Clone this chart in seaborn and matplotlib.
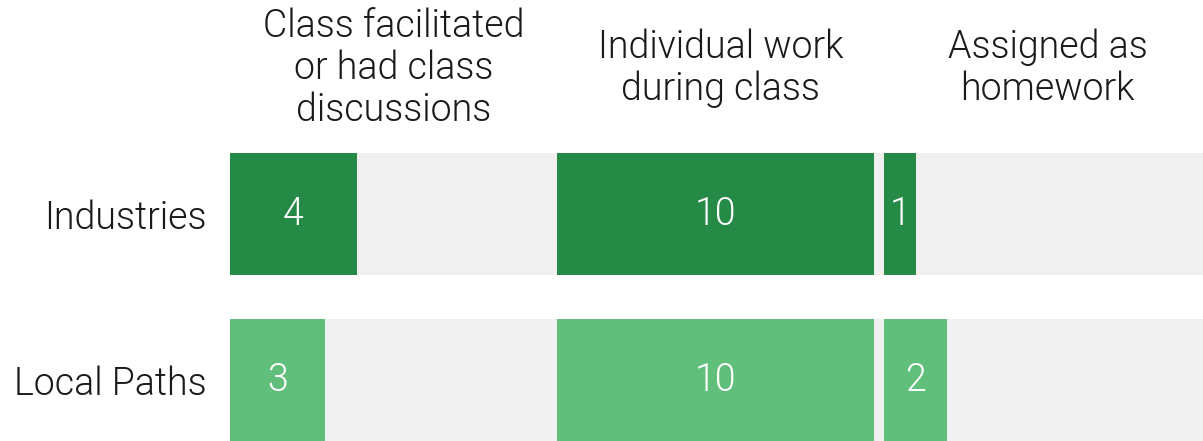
import matplotlib
matplotlib.use("Agg")
import matplotlib.pyplot as plt
import seaborn as sns

# Chart data
groups = ["Industries", "Local Paths"]
panel_titles = [
    "Class facilitated\nor had class\ndiscussions",
    "Individual work\nduring class",
    "Assigned as\nhomework",
]
facilitated = [4, 3]
individual = [10, 10]
homework = [1, 2]
panel_values = [facilitated, individual, homework]

dark_green = "#248a45"
light_green = "#5fbf7b"
grey = "#eff0ef"
text_color = "#1a1a1a"

sns.set_theme(style="white")
plt.rcParams["font.family"] = ["Roboto", "DejaVu Sans"]
font_w = 300
fsize = 27

W, H = 1203, 441
fig = plt.figure(figsize=(W / 100, H / 100), dpi=100)

panel_w = 327
left0 = 230
bar_h = 0.73
xmax = 10.3

for i, (title, vals) in enumerate(zip(panel_titles, panel_values)):
    ax = fig.add_axes([(left0 + i * panel_w) / W, 0, panel_w / W, 288 / H])
    # grey background band for each row
    for j in range(len(groups)):
        ax.axhspan(j - bar_h / 2, j + bar_h / 2, color=grey, lw=0, zorder=0)
    sns.barplot(x=vals, y=groups, hue=groups, palette=[dark_green, light_green],
                orient="h", width=bar_h, legend=False, ax=ax, zorder=2,
                linewidth=0, saturation=1)
    for j, v in enumerate(vals):
        ax.text(v / 2, j, str(v), ha="center", va="center", color="white",
                fontsize=fsize, fontweight=font_w, zorder=3)
    ax.set_xlim(0, xmax)
    ax.set_ylim(len(groups) - 1 + bar_h / 2, -bar_h / 2)
    ax.set_xlabel("")
    ax.set_ylabel("")
    ax.set_xticks([])
    if i == 0:
        ax.tick_params(axis="y", length=0, pad=17, labelsize=fsize, labelcolor=text_color)
        for lab in ax.get_yticklabels():
            lab.set_fontweight(font_w)
    else:
        ax.set_yticks([])
    for s in ax.spines.values():
        s.set_visible(False)
    ax.patch.set_alpha(0)
    cx = (left0 + i * panel_w + panel_w / 2) / W
    fig.text(cx, 1 - 68 / H, title, ha="center", va="center", fontsize=fsize,
             fontweight=font_w, color=text_color, linespacing=1.15)

fig.savefig("out.png", dpi=100)
